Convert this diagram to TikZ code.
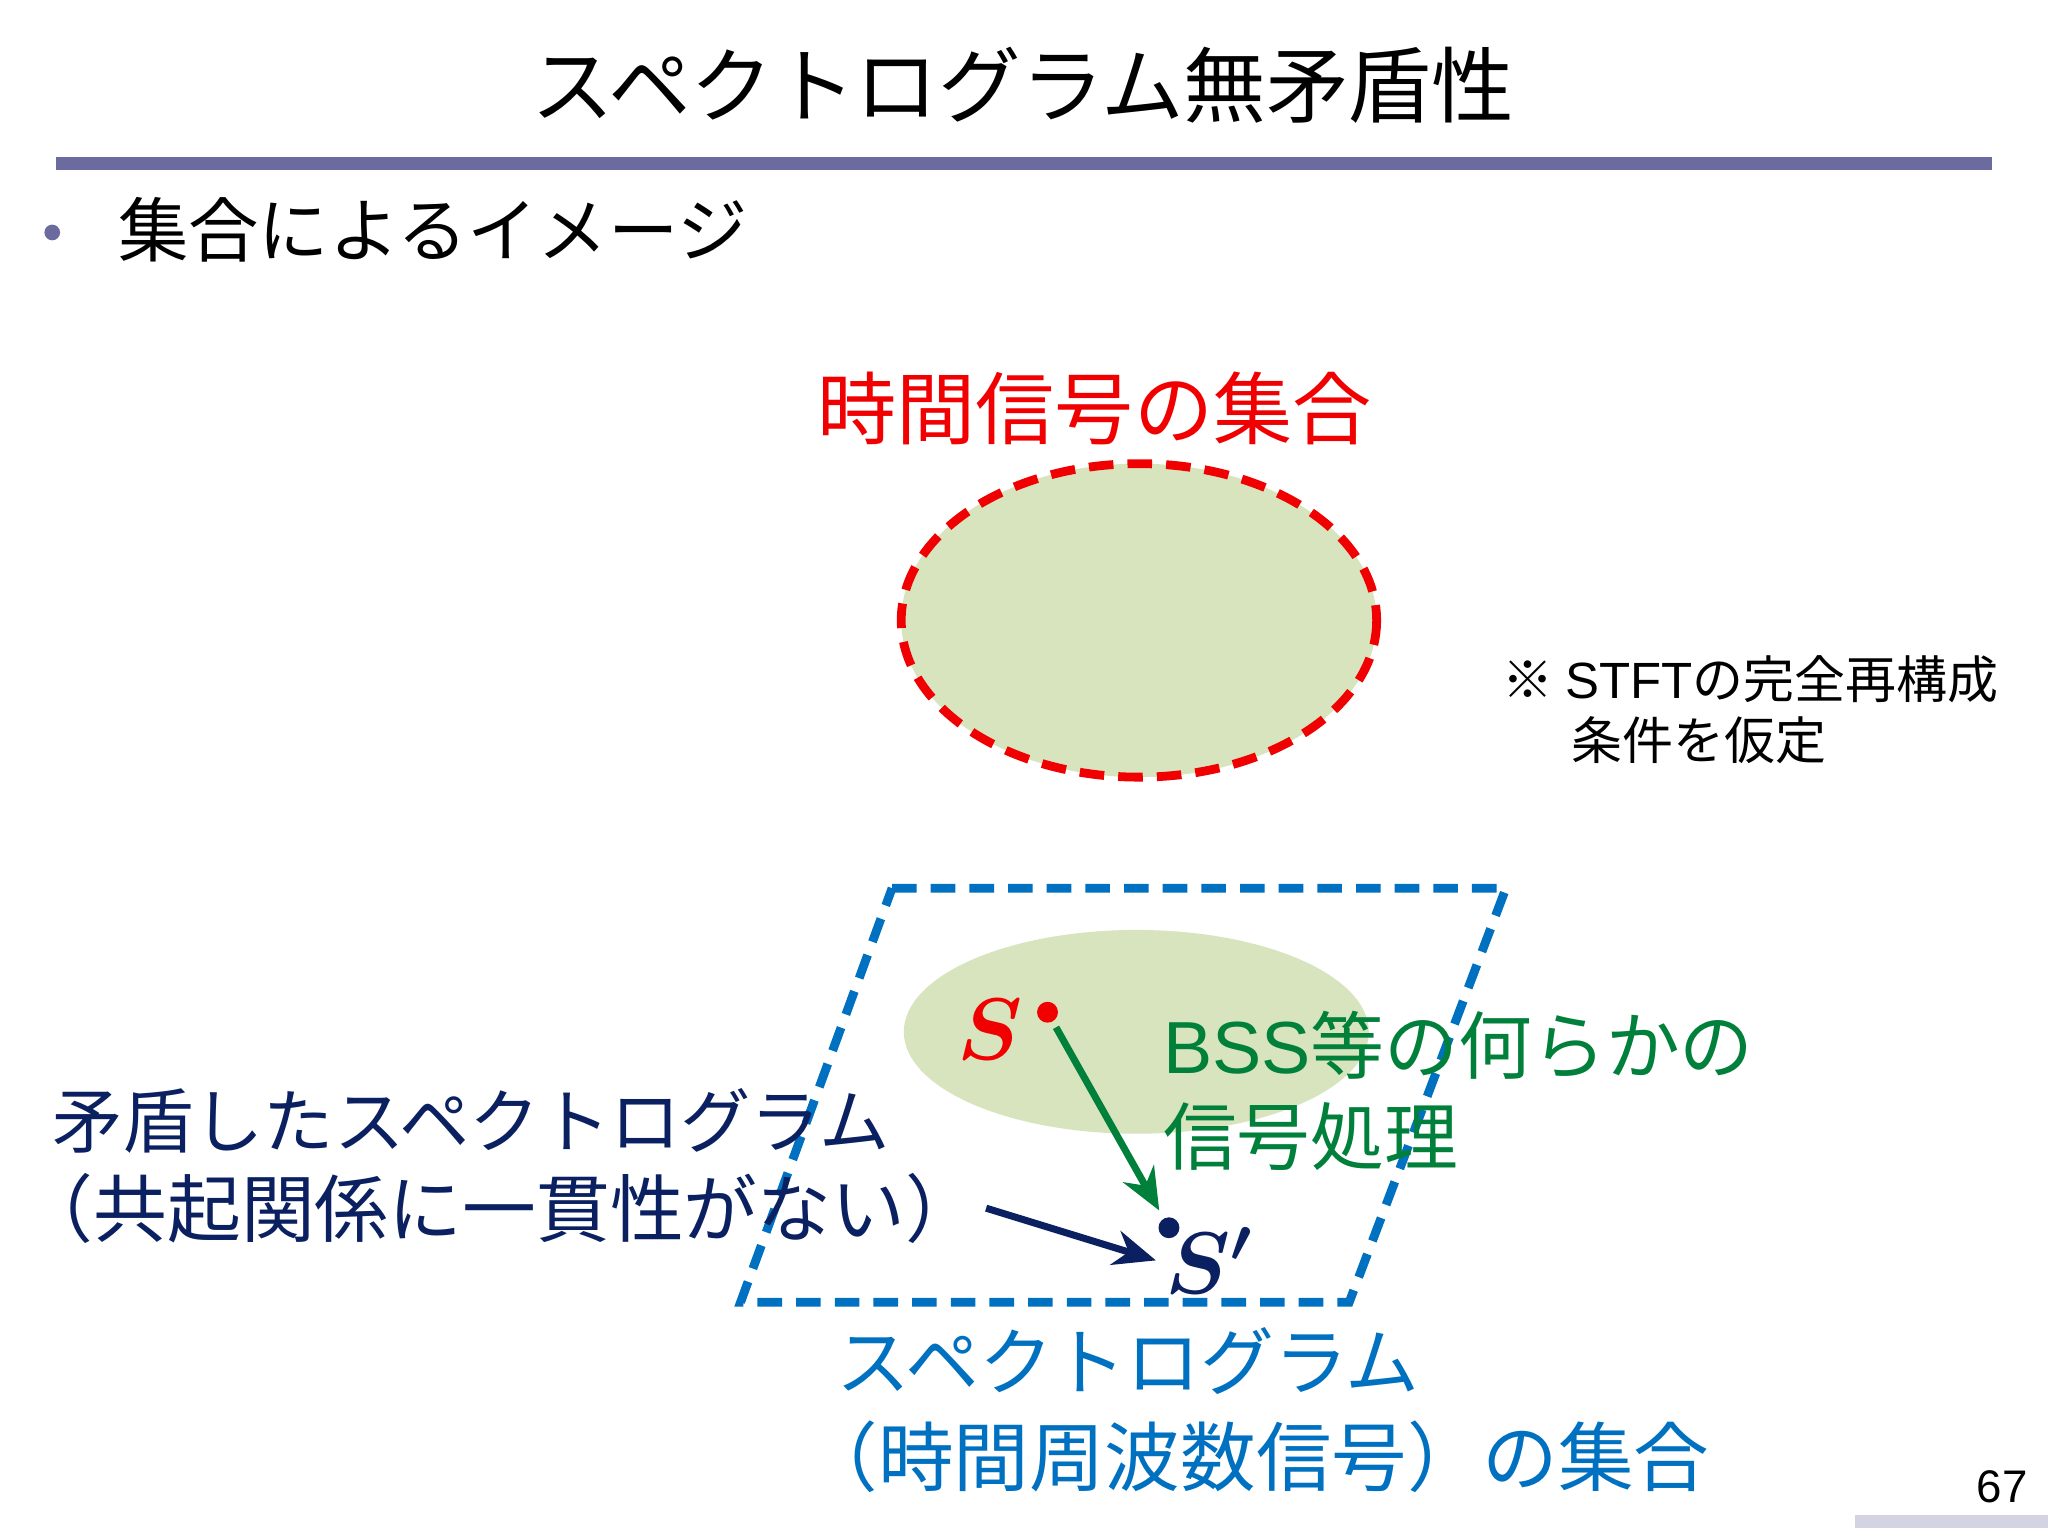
\documentclass[tikz,border=0pt]{standalone}
\usepackage{amsmath}
\usepackage{bm}
\usepackage{fontspec}
\setmainfont{Noto Sans CJK JP}
\setsansfont{Liberation Sans}
\usetikzlibrary{arrows.meta,calc}
\definecolor{rulec}{HTML}{6B6BA0}
\definecolor{fillg}{HTML}{D7E4BD}
\definecolor{bluec}{HTML}{0070C0}
\definecolor{greenc}{HTML}{00803A}
\definecolor{navyc}{HTML}{0A2060}
\definecolor{redc}{HTML}{F00000}
\tikzset{lbl/.style={inner sep=0pt,anchor=west,font=\fontsize{20pt}{24pt}\selectfont}}
\newcommand{\lp}{\hspace{-0.45em}（}
\newcommand{\rp}{）\hspace{-0.2em}}
\begin{document}
\begin{tikzpicture}[x=0.013061cm,y=-0.013061cm]
\useasboundingbox (0,0) rectangle (1568,1176);
\fill[white] (0,0) rectangle (1568,1176);
\node[inner sep=0pt,font=\fontsize{23.5pt}{28pt}\selectfont] (title) at (783,65) {スペクトログラム無矛盾性};
\fill[rulec] (43,120) rectangle (1525,130);
\fill[rulec] (40,178) circle (6);
\node[lbl] (bul) at (90,176) {集合によるイメージ};
\node[inner sep=0pt,text=redc,font=\fontsize{22.5pt}{26pt}\selectfont] (tl) at (838,313) {時間信号の集合};
\draw[redc,line width=2.5pt,dash pattern=on 7pt off 4pt,fill=fillg] (872,475) ellipse (182 and 120);
\node[lbl,font=\fontsize{14.5pt}{17pt}\selectfont] (n1) at (1150,520) {※ \textsf{STFT}の完全再構成};
\node[lbl,font=\fontsize{14.5pt}{17pt}\selectfont] (n2) at (1203,567) {条件を仮定};
\fill[fillg] (870,790) ellipse (178 and 78);
\draw[bluec,line width=2.5pt,dash pattern=on 7pt off 4pt] (683,680) -- (1153,680) -- (1033,997) -- (567,997) -- cycle;
\node[inner sep=0pt,text=redc,font=\fontsize{24pt}{28pt}\selectfont] (S) at (758,788) {$\bm{S}$};
\coordinate (sd) at (802,775);
\coordinate (sp) at (895,940);
\fill[redc] (sd) circle (8);
\fill[navyc] (sp) circle (8);
\draw[greenc,line width=2pt,-{Stealth[length=12pt,width=10pt]}] ($(sd)!0.07!(sp)$) -- ($(sd)!0.92!(sp)$);
\node[inner sep=0pt,text=navyc,font=\fontsize{24pt}{28pt}\selectfont] (Sp) at (926,965) {$\bm{S'}$};
\node[lbl,text=greenc,font=\fontsize{21pt}{25pt}\selectfont] (g1) at (890,800) {\textsf{BSS}等の何らかの};
\node[lbl,text=greenc,font=\fontsize{21pt}{25pt}\selectfont] (g2) at (890,870) {信号処理};
\node[lbl,text=navyc] (b1) at (40,858) {矛盾したスペクトログラム};
\node[lbl,text=navyc,font=\fontsize{21pt}{25pt}\selectfont] (b2) at (40,925) {\lp 共起関係に一貫性がない\rp};
\coordinate (as) at (755,925);
\coordinate (ae) at (885,965);
\draw[navyc,line width=2pt,-{Stealth[length=12pt,width=10pt]}] (as) -- (ae);
\node[lbl,text=bluec,font=\fontsize{21pt}{25pt}\selectfont] (c1) at (640,1042) {スペクトログラム};
\node[lbl,text=bluec,font=\fontsize{21.5pt}{25pt}\selectfont] (c2) at (640,1115) {\lp 時間周波数信号）の集合};
\node[inner sep=0pt,font=\sffamily\fontsize{13pt}{15pt}\selectfont] (pg) at (1533,1138) {67};
\fill[rulec!30] (1420,1160) rectangle (1568,1170);
\end{tikzpicture}
\end{document}
